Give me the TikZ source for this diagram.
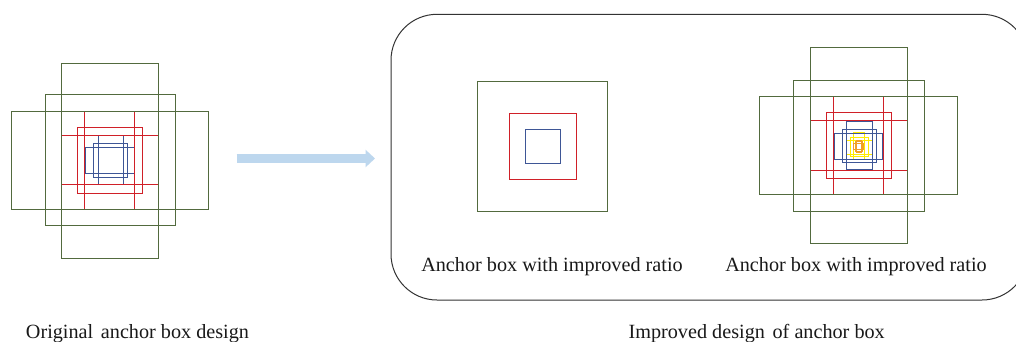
\documentclass[tikz,border=0pt]{standalone}
\usepackage{fontspec}
\setmainfont{Liberation Serif}
\usetikzlibrary{arrows.meta}
\definecolor{gboxc}{RGB}{82,106,62}
\definecolor{rboxc}{RGB}{208,32,40}
\definecolor{bboxc}{RGB}{62,86,150}
\definecolor{yboxc}{RGB}{255,236,0}
\definecolor{oboxc}{RGB}{240,160,40}
\definecolor{arrowblue}{RGB}{189,215,238}
\begin{document}
\begin{tikzpicture}[x=1pt,y=-1pt,
  gb/.style={draw=gboxc,line width=1pt},
  rb/.style={draw=rboxc,line width=1pt},
  bb/.style={draw=bboxc,line width=1pt},
  yb/.style={draw=yboxc,line width=1pt},
  ob/.style={draw=oboxc,line width=1pt},
  panel/.style={draw=black!80,line width=1pt,rounded corners=46pt},
  lbl/.style={font=\fontsize{20.2}{24}\selectfont,text=black!90,anchor=base,inner sep=0pt}]
\useasboundingbox (0,0) rectangle (1016,342);
\fill[white] (0,0) rectangle (1016,342);

% ---------- left: original design ----------
\draw[bb] (93.3,143.7) rectangle (127.7,177.7);
\draw[bb] (98.3,135.7) rectangle (123.7,184.3);
\draw[bb] (85,147.3) rectangle (134.3,173.7);
\draw[rb] (77.7,127.3) rectangle (142.3,193.3);
\draw[rb] (84.3,112) rectangle (134.3,209.7);
\draw[rb] (61,135.7) rectangle (158.7,184.3);
\draw[gb] (61,63.3) rectangle (158.7,258);
\draw[gb] (45,95) rectangle (175.7,225.7);
\draw[gb] (11.3,112) rectangle (208.3,209.7);

% ---------- arrow ----------
\coordinate (a1) at (236.7,158.5);
\coordinate (a2) at (375,158.5);
\draw[arrowblue,line width=8.5pt,-{Triangle[length=9.5pt,width=17pt]}] (a1) -- (a2);

% ---------- panel ----------
\draw[panel] (391,14.3) rectangle (1028,300);

% ---------- middle ----------
\draw[gb] (477.3,81.7) rectangle (607,211);
\draw[rb] (509.3,113.3) rectangle (576,179);
\draw[bb] (525.3,129.7) rectangle (560,163.3);

% ---------- right ----------
\draw[yb] (853.3,132.3) rectangle (864.3,159.3);
\draw[yb] (846.3,140.3) rectangle (872.3,154);
\draw[yb] (850,137.3) rectangle (868.7,156);
\draw[ob] (856,140.5) rectangle (861.7,152);
\draw[ob] (853.8,143.3) rectangle (863.8,149.5);
\draw[ob] (855,141.7) rectangle (862.7,151);
\draw[bb] (842.3,129) rectangle (876.7,162.3);
\draw[bb] (846.3,121) rectangle (872,169.7);
\draw[bb] (834,133) rectangle (882.7,159.3);
\draw[rb] (826.3,112.7) rectangle (891.3,178);
\draw[rb] (833.7,97) rectangle (883,194.3);
\draw[rb] (810.3,120.3) rectangle (907.3,170);
\draw[gb] (810.3,47.7) rectangle (907.3,243);
\draw[gb] (793.3,81) rectangle (924,211.3);
\draw[gb] (759.7,97) rectangle (957.3,194.3);

% ---------- labels ----------
\node[lbl] (t1) at (552,271.7) {Anchor box with improved ratio};
\node[lbl] (t2) at (856,271.7) {Anchor box with improved ratio};
\node[lbl] (t3) at (137.5,338.5) {Original\hspace{0.38em}anchor box design};
\node[lbl] (t4) at (756.7,338.5) {Improved design\hspace{0.38em}of anchor box};
\end{tikzpicture}
\end{document}
